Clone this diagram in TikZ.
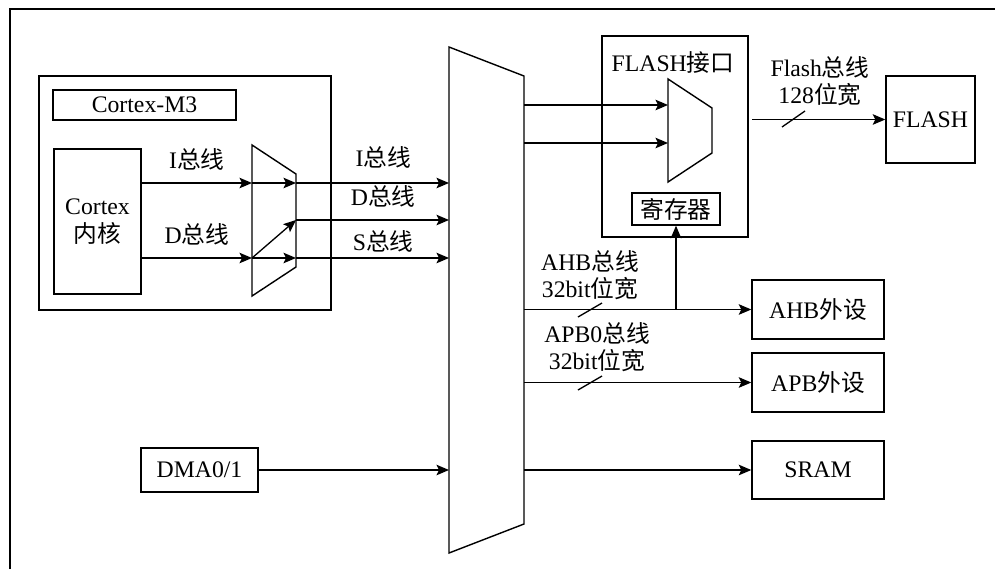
\documentclass[tikz,border=0pt]{standalone}
\usepackage{fontspec}
\setmainfont{Liberation Serif}
\newfontfamily\cjk{Noto Sans CJK SC}
\usetikzlibrary{arrows.meta,calc}
\newcommand{\soctext}{\fontsize{13.5}{15.5}\selectfont}
\tikzset{
  socbox/.style={draw,line width=0.8pt,inner sep=0pt,align=center,font=\soctext},
  socmux/.style={draw,line width=0.8pt,line join=miter},
  socflow/.style={-{Stealth[length=2.5mm,width=2.1mm,inset=0.5mm]},line width=0.75pt},
  soclabel/.style={font=\soctext,inner sep=0pt,align=center},
  socslash/.style={line width=0.75pt},
}

\begin{document}
\begin{tikzpicture}[x=0.02cm,y=-0.02cm]
\useasboundingbox (0,0) rectangle (995,569);
\draw[line width=1.4pt] (10,569) -- (10,9) -- (995,9);

% Cortex-M3 block
\node[socbox,minimum width=5.84cm,minimum height=4.68cm] (m3) at (185,193) {};
\node[socbox,minimum width=3.66cm,minimum height=0.6cm] (m3name) at (144.5,105) {Cortex-M3};
\node[socbox,minimum width=1.74cm,minimum height=2.9cm] (core) at (97.5,221.5) {Cortex\\{\cjk 内核}};

% small bus matrix
\draw[socmux] (252,145) -- (296,174) -- (296,267) -- (252,296) -- cycle;
\coordinate (smI) at (252,183);
\coordinate (smD) at (252,258);
\coordinate (smIo) at (296,183);
\coordinate (smDo) at (296,220);
\coordinate (smSo) at (296,258);

% big bus matrix
\draw[socmux] (449,47) -- (524,76) -- (524,524) -- (449,553) -- cycle;
\coordinate (bmL) at (449,300);
\coordinate (bmR) at (524,300);

% flash interface
\node[socbox,minimum width=2.92cm,minimum height=4.02cm] (flashif) at (675,136.5) {};
\node[soclabel] (flashifname) at (673,63) {FLASH{\cjk 接口}};
\draw[socmux] (668,79) -- (712,108) -- (712,153) -- (668,182) -- cycle;
\coordinate (fmL) at (668,130);
\node[socbox,minimum width=1.76cm,minimum height=0.64cm] (reg) at (676,209) {{\cjk 寄存器}};
\coordinate (fbus) at (752,119.5);

% targets
\node[socbox,minimum width=1.78cm,minimum height=1.74cm] (flash) at (930.5,119.5) {FLASH};
\node[socbox,minimum width=2.64cm,minimum height=1.18cm] (ahb) at (818,309.5) {AHB{\cjk 外设}};
\node[socbox,minimum width=2.64cm,minimum height=1.18cm] (apb) at (818,382.5) {APB{\cjk 外设}};
\node[socbox,minimum width=2.64cm,minimum height=1.16cm] (sram) at (818,470) {SRAM};
\node[socbox,minimum width=2.34cm,minimum height=0.88cm] (dma) at (199.5,470) {DMA0/1};

% core buses
\draw[socflow] (core.east|-smI) -- node[soclabel,above=7pt] (libus) {I{\cjk 总线}} (smI);
\draw[socflow] (core.east|-smD) -- node[soclabel,above=7pt] (ldbus) {D{\cjk 总线}} (smD);
\draw[socflow] (smI) -- (smIo);
\draw[socflow] (smD) -- (smDo);
\draw[socflow] (smD) -- (smSo);
\draw[socflow] (smIo) -- node[soclabel,above=8pt,pos=0.57] (ibus) {I{\cjk 总线}} (bmL|-smIo);
\draw[socflow] (smDo) -- node[soclabel,above=7pt,pos=0.57] (dbus) {D{\cjk 总线}} (bmL|-smDo);
\draw[socflow] (smSo) -- node[soclabel,above=3pt,pos=0.57] (sbus) {S{\cjk 总线}} (bmL|-smSo);
\draw[socflow] (dma) -- (bmL|-dma);

% to flash interface
\draw[socflow] (524,105) -- (fmL|-0,105);
\draw[socflow] (524,143) -- (fmL|-0,143);
\draw[socflow] (fbus) -- (flash);
\node[soclabel] (flashbus) at (820,81) {Flash{\cjk 总线}\\128{\cjk 位宽}};
\draw[socslash] (782,127) -- (805,111);

% peripheral buses
\draw[socflow] (bmR|-ahb) -- (ahb);
\draw[socflow] (reg|-ahb) -- (reg);
\node[soclabel] (ahbbus) at (590,275) {AHB{\cjk 总线}\\32bit{\cjk 位宽}};
\draw[socslash] (578,317) -- (602,303);
\draw[socflow] (bmR|-apb) -- (apb);
\node[soclabel] (apbbus) at (597,347) {APB0{\cjk 总线}\\32bit{\cjk 位宽}};
\draw[socslash] (578,390) -- (602,376);
\draw[socflow] (bmR|-sram) -- (sram);
\end{tikzpicture}
\end{document}
